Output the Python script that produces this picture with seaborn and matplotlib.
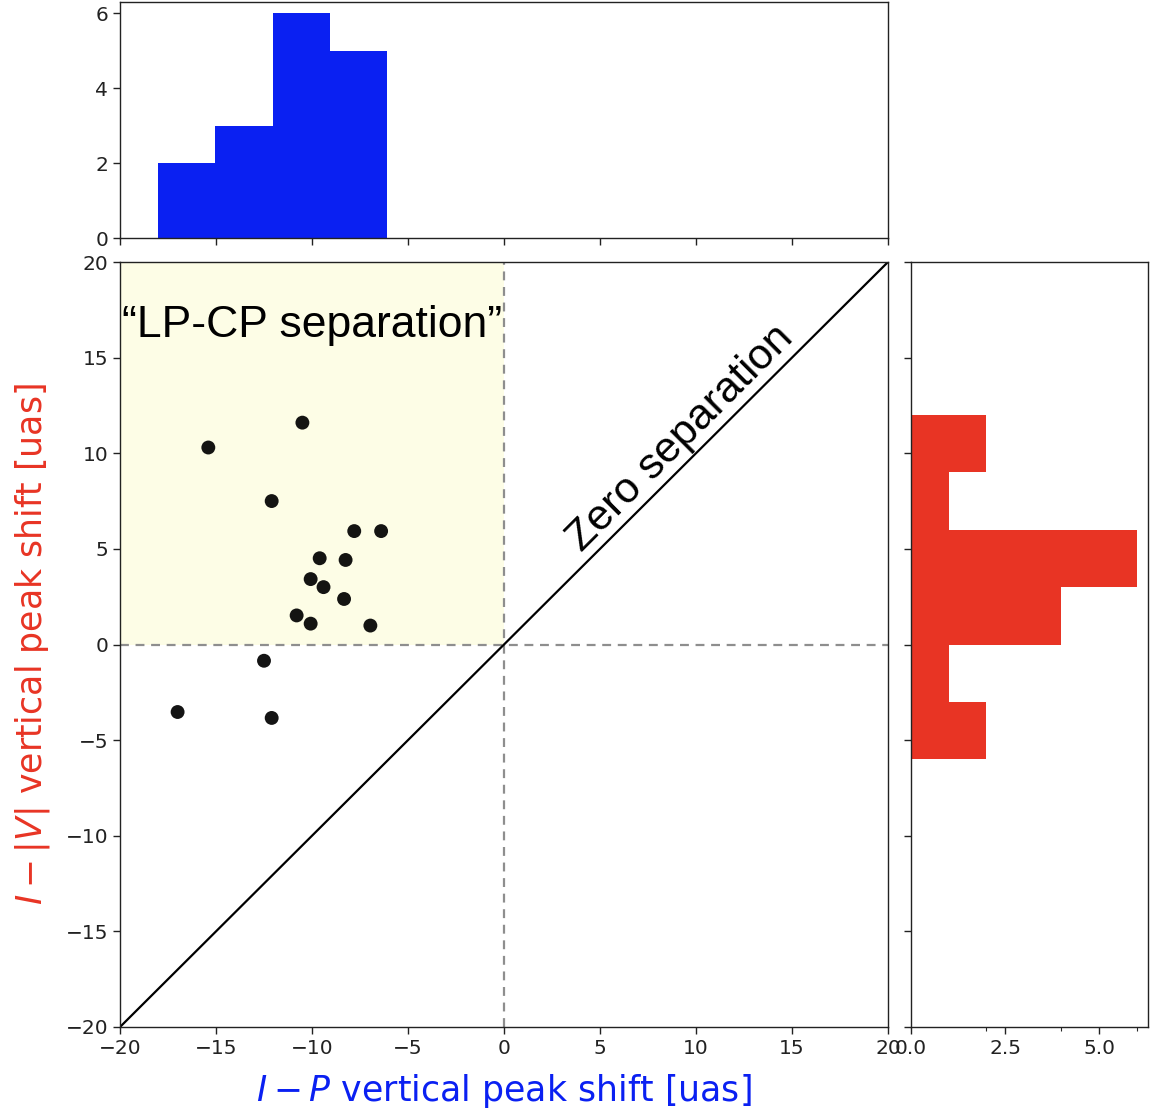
import numpy as np
import pandas as pd
import matplotlib
matplotlib.use("Agg")
import matplotlib.pyplot as plt
import seaborn as sns

# ---- data ----
ip_shift = [-15.4, -10.5, -12.1, -7.8, -6.4, -9.6, -8.25, -10.07, -9.4, -8.33,
            -10.8, -10.07, -6.96, -12.5, -17.0, -12.1]
iv_shift = [10.3, 11.6, 7.5, 5.93, 5.93, 4.51, 4.42, 3.42, 3.0, 2.38,
            1.52, 1.09, 0.99, -0.85, -3.53, -3.84]
x_bin_edges = [-18.0, -15.03, -12.05, -9.08, -6.1]
y_bin_edges = [-6, -3, 0, 3, 6, 9, 12]
main_ticks = [-20, -15, -10, -5, 0, 5, 10, 15, 20]
top_yticks = [0, 2, 4, 6]
right_xticks = [0.0, 2.5, 5.0]
right_minor = [2, 4, 6]

df = pd.DataFrame({"ip": ip_shift, "iv": iv_shift})

sns.set_style("ticks")
plt.rcParams["font.family"] = ["DejaVu Sans"]
plt.rcParams["xtick.direction"] = "out"
plt.rcParams["ytick.direction"] = "out"
plt.rcParams["text.color"] = "black"

BLUE = "#0a20f2"
RED = "#e83424"
YELLOW = "#fdfde6"
GRAY = "#8e8e8e"
TICKCOL = "#222222"

W, H = 1151, 1116
fig = plt.figure(figsize=(W / 100, H / 100), dpi=100)

def rect(x0, y0, x1, y1):
    return [x0 / W, 1 - y1 / H, (x1 - x0) / W, (y1 - y0) / H]

ax = fig.add_axes(rect(120, 262, 888, 1027))
ax_top = fig.add_axes(rect(120, 2, 888, 238))
ax_right = fig.add_axes(rect(911, 262, 1148, 1027))

for a in (ax, ax_top, ax_right):
    for s in a.spines.values():
        s.set_color(TICKCOL)
        s.set_linewidth(1.0)
    a.tick_params(colors=TICKCOL, labelcolor=TICKCOL, labelsize=14.5, length=5, width=1)

# ---- main scatter ----
ax.axvspan(-20, 0, ymin=0.5, ymax=1.0, color=YELLOW, zorder=0, lw=0)
ax.axhline(0, color=GRAY, ls=(0, (4, 3)), lw=1.6, zorder=1)
ax.axvline(0, color=GRAY, ls=(0, (4, 3)), lw=1.6, zorder=1)
ax.plot([-20, 20], [-20, 20], color="black", lw=1.6, zorder=2)
sns.scatterplot(data=df, x="ip", y="iv", ax=ax, color="black", s=100,
                edgecolor="none", alpha=0.92, zorder=3)
ax.set_xlim(-20, 20)
ax.set_ylim(-20, 20)
ax.set_xticks(main_ticks)
ax.set_yticks(main_ticks)
ax.set_xticklabels([str(t).replace("-", "\u2212") for t in main_ticks])
ax.set_yticklabels([str(t).replace("-", "\u2212") for t in main_ticks])
ax.set_xlabel(r"$I - P$ vertical peak shift [uas]", color=BLUE, fontsize=25, labelpad=10)
ax.set_ylabel(r"$I - |V|$ vertical peak shift [uas]", color=RED, fontsize=25, labelpad=10)

ax.text(-19.9, 16.7, "\u201cLP-CP separation\u201d", fontsize=32, color="black",
        family=["Liberation Sans", "DejaVu Sans"], va="center", ha="left", zorder=4)
ax.text(9.2, 10.8, "Zero separation", fontsize=31, rotation=45, color="black",
        rotation_mode="anchor", family=["Liberation Sans", "DejaVu Sans"],
        ha="center", va="center", zorder=4)

# ---- top histogram ----
sns.histplot(data=df, x="ip", bins=x_bin_edges, ax=ax_top, color=BLUE,
             alpha=1.0, edgecolor=BLUE, linewidth=0)
ax_top.set_xlim(-20, 20)
ax_top.set_ylim(0, 6.3)
ax_top.set_xticks(main_ticks)
ax_top.set_xticklabels([])
ax_top.set_yticks(top_yticks)
ax_top.set_xlabel("")
ax_top.set_ylabel("")

# ---- right histogram ----
sns.histplot(data=df, y="iv", bins=y_bin_edges, ax=ax_right, color=RED,
             alpha=1.0, edgecolor=RED, linewidth=0)
ax_right.set_ylim(-20, 20)
ax_right.set_xlim(0, 6.3)
ax_right.set_yticks(main_ticks)
ax_right.set_yticklabels([])
ax_right.set_xticks(right_xticks)
ax_right.set_xticklabels(["0.0", "2.5", "5.0"])
ax_right.set_xticks(right_minor, minor=True)
ax_right.tick_params(axis="x", which="minor", length=3, width=0.8)
ax_right.set_xlabel("")
ax_right.set_ylabel("")

fig.savefig("out.png", dpi=100)
